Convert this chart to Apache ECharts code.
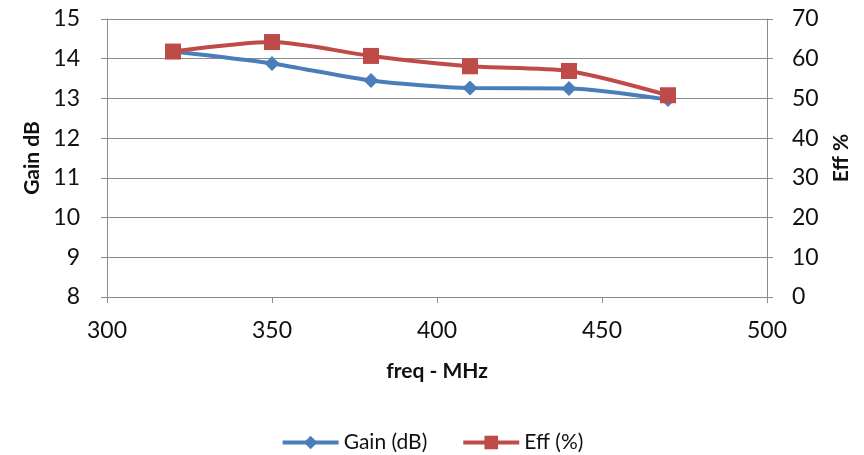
<!DOCTYPE html>
<html>
<head>
<meta charset="utf-8">
<script src="https://cdn.jsdelivr.net/npm/echarts@6/dist/echarts.min.js"></script>
<style>
  html, body { margin: 0; padding: 0; background: #fff; }
  #chart { width: 864px; height: 455px; }
</style>
</head>
<body>
<div id="chart"></div>
<script>
// Frequency sweep (MHz) and measured results
const freqMHz = [320, 350, 380, 410, 440, 470];
const gainDb = [14.18, 13.88, 13.45, 13.26, 13.25, 12.97];
const effPct = [61.8, 64.2, 60.7, 58.1, 56.9, 50.8];

const gainTicks = { min: 8, max: 15, interval: 1 };
const effTicks = { min: 0, max: 70, interval: 10 };
const freqTicks = { min: 300, max: 500, interval: 50 };

const FONT = 'Lato, "Open Sans", sans-serif';
const GRID = '#8c8c8c';
const BLUE = '#4a7ebb';
const RED = '#be4b48';

const labelStyle = { color: '#111', fontSize: 23, fontFamily: FONT };
const nameStyle = { color: '#111', fontSize: 21, fontWeight: 'bold', fontFamily: FONT };

const chart = echarts.init(document.getElementById('chart'), null, { renderer: 'canvas' });

chart.setOption({
  backgroundColor: '#fff',
  animation: false,
  grid: { left: 107, right: 97, top: 19, bottom: 158 },
  legend: {
    top: 432,
    left: 'center',
    padding: 0,
    itemWidth: 56,
    itemHeight: 17,
    itemGap: 34,
    lineStyle: { width: 'inherit' },
    textStyle: { color: '#111', fontSize: 21, fontFamily: FONT },
    data: ['Gain (dB)', 'Eff (%)']
  },
  xAxis: {
    type: 'value',
    min: freqTicks.min, max: freqTicks.max, interval: freqTicks.interval,
    name: 'freq - MHz',
    nameLocation: 'middle',
    nameGap: 64,
    nameTextStyle: nameStyle,
    axisLine: { show: true, lineStyle: { color: GRID, width: 1 } },
    axisTick: { show: true, length: 6, lineStyle: { color: GRID } },
    axisLabel: { ...labelStyle, margin: 22 },
    splitLine: { show: false }
  },
  yAxis: [
    {
      type: 'value',
      position: 'left',
      min: gainTicks.min, max: gainTicks.max, interval: gainTicks.interval,
      name: 'Gain dB',
      nameLocation: 'middle',
      nameRotate: 90,
      nameGap: 64,
      nameTextStyle: nameStyle,
      axisLine: { show: true, lineStyle: { color: GRID, width: 1 } },
      axisTick: { show: true, length: 6, lineStyle: { color: GRID } },
      axisLabel: { ...labelStyle, margin: 27 },
      splitLine: { show: true, lineStyle: { color: GRID, width: 1 } }
    },
    {
      type: 'value',
      position: 'right',
      min: effTicks.min, max: effTicks.max, interval: effTicks.interval,
      name: 'Eff %',
      nameLocation: 'middle',
      nameRotate: 90,
      nameGap: 64,
      nameTextStyle: nameStyle,
      axisLine: { show: true, lineStyle: { color: GRID, width: 1 } },
      axisTick: { show: true, length: 6, lineStyle: { color: GRID } },
      axisLabel: { ...labelStyle, margin: 25 },
      splitLine: { show: false }
    }
  ],
  series: [
    {
      name: 'Gain (dB)',
      type: 'line',
      yAxisIndex: 0,
      smooth: 0.25,
      data: freqMHz.map((f, i) => [f, gainDb[i]]),
      symbol: 'diamond',
      symbolSize: 15,
      lineStyle: { color: BLUE, width: 4 },
      itemStyle: { color: BLUE },
      z: 2
    },
    {
      name: 'Eff (%)',
      type: 'line',
      yAxisIndex: 1,
      smooth: 0.25,
      data: freqMHz.map((f, i) => [f, effPct[i]]),
      symbol: 'rect',
      symbolSize: 16,
      lineStyle: { color: RED, width: 4 },
      itemStyle: { color: RED },
      z: 3
    }
  ]
});
</script>
</body>
</html>
